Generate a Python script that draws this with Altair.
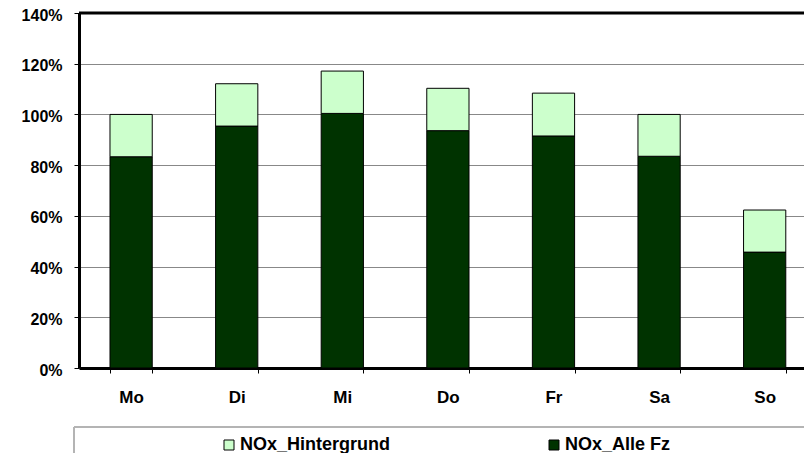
import altair as alt
import pandas as pd

days = ["Mo", "Di", "Mi", "Do", "Fr", "Sa", "So"]
alle_fz = [83.3, 95.4, 100.4, 93.6, 91.5, 83.5, 45.7]
hintergrund = [16.7, 16.7, 16.7, 16.7, 16.9, 16.5, 16.6]
series = ["NOx_Hintergrund", "NOx_Alle Fz"]
colors = ["#CCFFCC", "#003300"]

rows = []
for d, a, h in zip(days, alle_fz, hintergrund):
    rows.append({"Tag": d, "Serie": "NOx_Alle Fz", "Wert": a / 100, "ord": 0})
    rows.append({"Tag": d, "Serie": "NOx_Hintergrund", "Wert": h / 100, "ord": 1})
df = pd.DataFrame(rows)

FONT = "Liberation Sans"

bars = alt.Chart(df).mark_bar(stroke="black", strokeWidth=1).encode(
    x=alt.X("Tag:N", sort=days, title=None,
            scale=alt.Scale(paddingInner=0.6, paddingOuter=0.233, align=0.63),
            axis=alt.Axis(labelAngle=0, labelFont=FONT, labelFontSize=17,
                          labelFontWeight="bold", labelColor="black",
                          labelPadding=16, tickSize=5, tickColor="black",
                          tickBand="extent", domainColor="black", domainWidth=3,
                          grid=False)),
    y=alt.Y("Wert:Q", stack="zero", title=None,
            scale=alt.Scale(domain=[0, 1.4], nice=False),
            axis=alt.Axis(format=".0%", values=[0, 0.2, 0.4, 0.6, 0.8, 1.0, 1.2, 1.4],
                          labelFont=FONT, labelFontSize=16, labelFontWeight="bold",
                          labelColor="black", labelPadding=12, labelOffset=2,
                          tickSize=5, tickColor="black", domainColor="black",
                          domainWidth=3, gridColor="#888888", gridWidth=1.2)),
    color=alt.Color("Serie:N", sort=series, title=None,
                    scale=alt.Scale(domain=series, range=colors),
                    legend=alt.Legend(orient="none", legendX=141, legendY=423,
                                      direction="horizontal", columns=2,
                                      columnPadding=154, padding=0,
                                      symbolType="square", symbolSize=100,
                                      symbolStrokeColor="black", symbolStrokeWidth=1,
                                      labelFont=FONT, labelFontSize=18,
                                      labelFontWeight="bold", labelColor="black",
                                      labelOffset=2)),
    order=alt.Order("ord:Q"),
)

one = alt.Data(values=[{}])
top_line = alt.Chart(one).mark_rule(color="black", strokeWidth=3).encode(
    x=alt.value(0), x2=alt.value(745), y=alt.value(0))
leg_h = alt.Chart(one).mark_rule(color="#b4b4b4", strokeWidth=2).encode(
    x=alt.value(-5), x2=alt.value(745), y=alt.value(414))
leg_v = alt.Chart(one).mark_rule(color="#b4b4b4", strokeWidth=2).encode(
    x=alt.value(-5), y=alt.value(414), y2=alt.value(460))

chart = alt.layer(bars, top_line, leg_h, leg_v).properties(
    width=725, height=355,
    autosize=alt.AutoSizeParams(type="none"),
    padding={"left": 71, "top": 5, "right": 0, "bottom": 85},
).configure_view(stroke=None).configure(background="white")

chart.save("out.html", embed_options={"renderer": "svg", "actions": False})
